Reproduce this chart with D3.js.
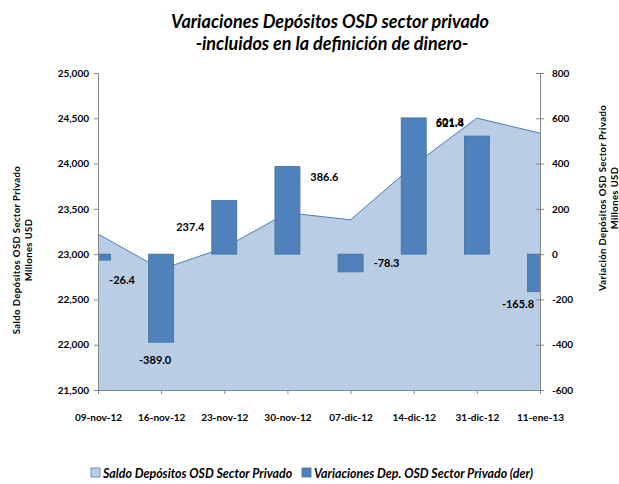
<!DOCTYPE html>
<html>
<head>
<meta charset="utf-8">
<script src="https://cdn.jsdelivr.net/npm/d3@7"></script>
<style>
  body { margin: 0; background: #fff; }
  svg text { font-family: Lato, 'Open Sans', sans-serif; font-weight: bold; fill: #000; }
</style>
</head>
<body>
<div id="app"></div>
<script>
// data
const dates = ['09-nov-12','16-nov-12','23-nov-12','30-nov-12','07-dic-12','14-dic-12','31-dic-12','11-ene-13']
const saldo = [23222, 22833, 23070, 23457, 23379, 23981, 24502, 24336]
const variaciones = [-26.4, -389.0, 237.4, 386.6, -78.3, 601.8, 521.4, -165.8]
const leftTicks = [21500, 22000, 22500, 23000, 23500, 24000, 24500, 25000]
const rightTicks = [-600, -400, -200, 0, 200, 400, 600, 800]

// label nudges (dx, dy) from the bar end, like the hand placed excel labels
const labelNudge = [[24,19],[-6,17],[-34,26],[37,10],[36,-9],[36,4],[-27,-14],[-22,12]]

const W = 619, H = 484
const svg = d3.select('#app').append('svg').attr('width',W).attr('height',H)

const pL = 98, pR = 540, pT = 73, pB = 390

const x = d3.scalePoint().domain(dates).range([pL,pR])
const yL = d3.scaleLinear().domain([21500,25000]).range([pB,pT])
const yR = d3.scaleLinear().domain([-600,800]).range([pB,pT])

svg.append('clipPath').attr('id','plot')
  .append('rect').attr('x',pL).attr('y',pT).attr('width',pR-pL).attr('height',pB-pT)

// area (left axis)
const area = d3.area().x((d,i) => x(dates[i])).y0(pB).y1(d => yL(d))
const line = d3.line().x((d,i) => x(dates[i])).y(d => yL(d))
svg.append('path').datum(saldo).attr('d',area).attr('fill','#B9CDE5')
svg.append('path').datum(saldo).attr('d',line).attr('fill','none').attr('stroke','#4A7EBB').attr('stroke-width',1)

// bars (right axis)
const bw = 25
svg.append('g').attr('clip-path','url(#plot)')
  .selectAll('rect.bar').data(variaciones).enter().append('rect')
  .attr('class','bar')
  .attr('x',(d,i) => x(dates[i]) - bw/2)
  .attr('width',bw)
  .attr('y',d => yR(Math.max(0,d)))
  .attr('height',d => Math.abs(yR(d) - yR(0)))
  .attr('fill','#4F81BD')
  .attr('stroke','#41719C')
  .attr('stroke-width',0.8)

// axes
const axisColor = '#868686'
const gl = svg.append('g').attr('transform',`translate(${pL},0)`)
  .call(d3.axisLeft(yL).tickValues(leftTicks).tickFormat(d3.format(',')).tickSize(4).tickPadding(5))
const gr = svg.append('g').attr('transform',`translate(${pR},0)`)
  .call(d3.axisRight(yR).tickValues(rightTicks).tickFormat(d => String(d)).tickSize(4).tickPadding(8))
gr.selectAll('.tick line').attr('x1',-4)
const gb = svg.append('g').attr('transform',`translate(0,${pB})`)
  .call(d3.axisBottom(x).tickSize(4).tickPadding(20))

;[gl,gr,gb].forEach(g => {
  g.select('.domain').attr('stroke',axisColor)
  g.selectAll('.tick line').attr('stroke',axisColor)
  g.selectAll('.tick text').attr('font-family','Lato, sans-serif').attr('font-weight','bold').attr('font-size',10).attr('fill','#000')
})

// data labels
svg.selectAll('text.lbl').data(variaciones).enter().append('text')
  .attr('class','lbl')
  .attr('x',(d,i) => x(dates[i]) + labelNudge[i][0])
  .attr('y',(d,i) => yR(d) + labelNudge[i][1])
  .attr('text-anchor','middle')
  .attr('dominant-baseline','central')
  .attr('font-size',11)
  .text(d => d.toFixed(1))

// title
const title = svg.append('text').attr('text-anchor','middle')
  .attr('font-size',18).attr('font-style','italic')
title.append('tspan').attr('x',330).attr('y',28).text('Variaciones  Depósitos  OSD sector  privado')
title.append('tspan').attr('x',332).attr('y',50).text('-incluidos en la definición  de dinero-')

// axis titles
const lt = svg.append('text').attr('transform','translate(20,250) rotate(-90)')
  .attr('text-anchor','middle').attr('font-size',9.5).attr('letter-spacing',0.4)
lt.append('tspan').attr('x',0).attr('y',0).text('Saldo Depósitos  OSD  Sector Privado')
lt.append('tspan').attr('x',0).attr('y',12).text('Millones USD')

const rt = svg.append('text').attr('transform','translate(606,198) rotate(-90)')
  .attr('text-anchor','middle').attr('font-size',9.5).attr('letter-spacing',0.4)
rt.append('tspan').attr('x',0).attr('y',0).text('Variación  Depósitos OSD  Sector Privado')
rt.append('tspan').attr('x',0).attr('y',12).text('Millones  USD')

// legend
const legend = [
  {name:'Saldo Depósitos OSD Sector Privado', fill:'#B9CDE5', stroke:'#4A7EBB', x:91},
  {name:'Variaciones Dep. OSD Sector Privado (der)', fill:'#4F81BD', stroke:'#41719C', x:302}
]
const lg = svg.selectAll('g.leg').data(legend).enter().append('g').attr('class','leg')
  .attr('transform',d => `translate(${d.x},468)`)
lg.append('rect').attr('width',9).attr('height',9).attr('fill',d => d.fill).attr('stroke',d => d.stroke).attr('stroke-width',0.8)
lg.append('text').attr('x',12).attr('y',9.5).attr('font-size',12.4).attr('font-style','italic').text(d => d.name)
</script>
</body>
</html>
